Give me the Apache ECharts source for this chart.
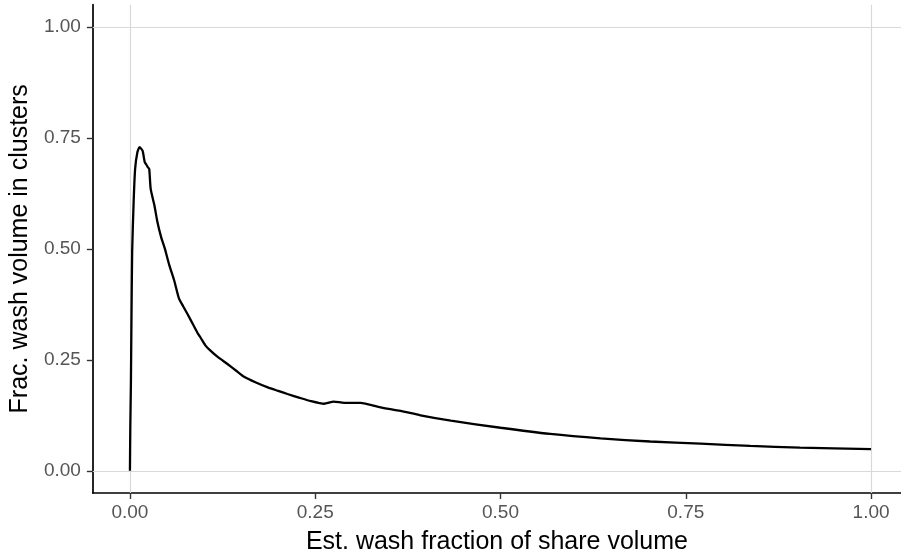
<!DOCTYPE html>
<html>
<head>
<meta charset="utf-8">
<script src="https://cdn.jsdelivr.net/npm/echarts@6/dist/echarts.min.js"></script>
<style>html,body{margin:0;padding:0;background:#fff}#c{width:901px;height:560px}</style>
</head>
<body>
<div id="c"></div>
<script>
const xValues = [0.0000,0.0005,0.0013,0.0020,0.0030,0.0050,0.0070,0.0100,0.0130,0.0170,0.0200,0.0220,0.0240,0.0260,0.0280,0.0330,0.0370,0.0420,0.0470,0.0530,0.0600,0.0660,0.0720,0.0780,0.0850,0.0910,0.0960,0.1020,0.1090,0.1180,0.1320,0.1430,0.1540,0.1700,0.1860,0.2000,0.2125,0.2280,0.2440,0.2620,0.2750,0.2890,0.3110,0.3380,0.3650,0.3920,0.4330,0.5000,0.5670,0.6350,0.7020,0.7700,0.8370,0.9040,1.0000];
const yValues = [0.000,0.100,0.195,0.330,0.494,0.606,0.680,0.717,0.729,0.721,0.695,0.690,0.684,0.680,0.635,0.598,0.561,0.527,0.501,0.464,0.427,0.389,0.370,0.352,0.330,0.311,0.298,0.282,0.270,0.257,0.240,0.226,0.212,0.199,0.188,0.180,0.173,0.165,0.157,0.151,0.156,0.153,0.153,0.143,0.135,0.125,0.113,0.097,0.083,0.073,0.066,0.061,0.056,0.052,0.049];
const tickValues = [0, 0.25, 0.5, 0.75, 1];
const gridValues = [0, 1];
const xTitle = 'Est. wash fraction of share volume';
const yTitle = 'Frac. wash volume in clusters';

const font = 'Liberation Sans, Arial, Helvetica, sans-serif';
const chart = echarts.init(document.getElementById('c'), null, {renderer: 'canvas'});
const axisCommon = {
  type: 'value',
  nameLocation: 'middle',
  nameTextStyle: {color: '#000', fontSize: 25, fontFamily: font},
  axisLine: {show: true, onZero: false, lineStyle: {color: '#000', width: 1.7}},
  axisTick: {show: true, inside: false, length: 6, customValues: tickValues, lineStyle: {color: '#333', width: 1.4}},
  axisLabel: {customValues: tickValues, color: '#555', fontSize: 19, fontFamily: font, formatter: v => v.toFixed(2)},
  splitLine: {show: false}
};
chart.setOption({
  animation: false,
  backgroundColor: '#fff',
  grid: {left: 92, right: 0, top: 4.65, bottom: 63.65, containLabel: false},
  xAxis: Object.assign({}, axisCommon, {min: -0.05, max: 1.0404, name: xTitle, nameGap: 37,
    axisLabel: Object.assign({}, axisCommon.axisLabel, {margin: 10})}),
  yAxis: Object.assign({}, axisCommon, {min: -0.05, max: 1.05, name: yTitle, nameGap: 54,
    axisLabel: Object.assign({}, axisCommon.axisLabel, {margin: 12})}),
  series: [
    {
      type: 'line', data: [], z: 1, silent: true,
      markLine: {
        silent: true, symbol: 'none', animation: false,
        label: {show: false},
        lineStyle: {color: '#d9d9d9', width: 1.2, type: 'solid'},
        data: gridValues.map(v => ({xAxis: v})).concat(gridValues.map(v => ({yAxis: v})))
      }
    },
    {
      type: 'line', z: 5,
      data: xValues.map((x, i) => [x, yValues[i]]),
      showSymbol: false, symbol: 'none', smooth: 0.2,
      lineStyle: {color: '#000', width: 2.3}
    }
  ]
});
</script>
</body>
</html>
